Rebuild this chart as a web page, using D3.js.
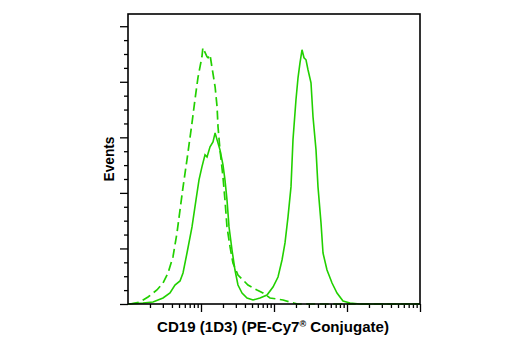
<!DOCTYPE html>
<html>
<head>
<meta charset="utf-8">
<script src="https://cdn.jsdelivr.net/npm/d3@7"></script>
<style>
  html, body { margin: 0; padding: 0; background: #fff; }
  svg { display: block; }
</style>
</head>
<body>
<svg id="chart" width="520" height="350"></svg>
<script>
// Fluorescence intensity (x, log scale) for each curve
const isotypeX = [10.6, 14.5, 18.8, 24.9, 30.2, 35.3, 41.3, 46.9, 51.6, 56.7, 64.3, 75.3, 82.7, 91.0, 103, 106, 121, 125, 133, 141, 156, 166, 171, 182, 200, 213, 227, 250, 274, 321, 376, 440, 585, 707, 881, 1099, 1327, 1656, 2100, 100000];
const isotypeY = [0, 1.8, 6.3, 12.6, 18.9, 27.9, 42.3, 64, 84.7, 105, 130, 163, 184, 204, 222.5, 230.6, 222.5, 221.6, 224.3, 213.5, 195.5, 177.5, 159.5, 138.7, 114.4, 93.7, 69.4, 51.4, 36.9, 26.1, 21.6, 17.1, 12.6, 9.9, 5.4, 4.5, 3.6, 1.8, 0, 0];

const cd19X = [10, 16.0, 22.0, 30.2, 37.6, 44.0, 51.6, 56.7, 64.3, 75.3, 85.4, 93.9, 103, 113.5, 121, 133, 146, 156, 166, 182, 200, 213, 227, 242, 266, 292, 321, 365, 427, 516, 643, 802, 969, 1135, 1288, 1415, 1556, 1709, 1820, 2000, 2133, 2270, 2420, 2577, 2744, 2922, 3213, 3422, 3762, 4006, 4405, 4691, 5322, 6237, 7298, 8812, 10990, 15000, 100000];
const cd19Y = [0, 0.9, 1.8, 5.4, 9.9, 17.1, 20.7, 27.9, 45.9, 69.4, 93.7, 111.7, 123.4, 134.2, 132.4, 141.4, 145.9, 154, 147.7, 138.7, 125.2, 111.7, 93.7, 69.4, 48.6, 30.6, 17.1, 9.9, 5.4, 3.6, 5.4, 8.1, 15.3, 24.3, 39.6, 55, 78.4, 105.4, 147.7, 183.8, 203.6, 217.1, 228.8, 221.6, 219.8, 210.8, 199.1, 168.5, 138.7, 105.4, 73, 45.9, 30.6, 18.9, 9.9, 2.7, 0.9, 0, 0];

const xDomain = [10, 100000];
const yDomain = [0, 261];
const yMajorTicks = [0, 50, 100, 150, 200, 250];
const yMinorTicks = d3.range(0, 261, 12.5).filter(v => v % 50 !== 0);
const xMajorTicks = [100, 1000, 10000, 100000];
const xMinorTicks = [];
[10, 100, 1000, 10000].forEach(d => { for (let k = 2; k <= 9; k++) xMinorTicks.push(d * k); });

const xLabel = "CD19 (1D3) (PE-Cy7";
const xLabelSup = "®";
const xLabelEnd = " Conjugate)";
const yLabel = "Events";

const green = "#22d000";
const svg = d3.select("#chart");
const mLeft = 128, mRight = 420, mTop = 14, mBottom = 304;

const x = d3.scaleLog().domain(xDomain).range([mLeft, mRight]);
const y = d3.scaleLinear().domain(yDomain).range([mBottom, mTop]);

// ticks
const xAxisMajor = d3.axisBottom(x).tickValues(xMajorTicks).tickSize(8).tickFormat("");
const xAxisMinor = d3.axisBottom(x).tickValues(xMinorTicks).tickSize(4).tickFormat("");
const yAxisMajor = d3.axisLeft(y).tickValues(yMajorTicks).tickSize(8).tickFormat("");
const yAxisMinor = d3.axisLeft(y).tickValues(yMinorTicks).tickSize(4).tickFormat("");

function styleAxis(g) {
  g.select(".domain").remove();
  g.selectAll(".tick line").attr("stroke", "#000").attr("stroke-width", 1.3);
}
svg.append("g").attr("transform", `translate(0,${mBottom})`).call(xAxisMajor).call(styleAxis);
svg.append("g").attr("transform", `translate(0,${mBottom})`).call(xAxisMinor).call(styleAxis);
svg.append("g").attr("transform", `translate(${mLeft},0)`).call(yAxisMajor).call(styleAxis);
svg.append("g").attr("transform", `translate(${mLeft},0)`).call(yAxisMinor).call(styleAxis);

// curves
const line = d3.line().x(d => x(d[0])).y(d => y(d[1]));
svg.append("path")
  .datum(isotypeX.map((v, i) => [v, isotypeY[i]]))
  .attr("d", line)
  .attr("fill", "none")
  .attr("stroke", green)
  .attr("stroke-width", 1.7)
  .attr("stroke-dasharray", "9,4.5");
svg.append("path")
  .datum(cd19X.map((v, i) => [v, cd19Y[i]]))
  .attr("d", line)
  .attr("fill", "none")
  .attr("stroke", green)
  .attr("stroke-width", 1.6);

// frame
svg.append("rect")
  .attr("x", mLeft).attr("y", mTop)
  .attr("width", mRight - mLeft).attr("height", mBottom - mTop)
  .attr("fill", "none").attr("stroke", "#000").attr("stroke-width", 1.6);

// labels
const font = "'Liberation Sans Narrow', 'Liberation Sans', Arial, sans-serif";
const xt = svg.append("text")
  .attr("x", 157).attr("y", 332)
  .attr("font-family", font).attr("font-weight", "bold").attr("font-size", 15)
  .attr("textLength", 232).attr("lengthAdjust", "spacingAndGlyphs")
  .attr("fill", "#000");
xt.append("tspan").text(xLabel);
xt.append("tspan").attr("font-size", 9).attr("dy", -5).text(xLabelSup);
xt.append("tspan").attr("dy", 5).text(xLabelEnd);

svg.append("text")
  .attr("transform", "translate(114,159) rotate(-90)")
  .attr("text-anchor", "middle")
  .attr("font-family", font).attr("font-weight", "bold").attr("font-size", 15)
  .attr("textLength", 45).attr("lengthAdjust", "spacingAndGlyphs")
  .attr("fill", "#000")
  .text(yLabel);
</script>
</body>
</html>
